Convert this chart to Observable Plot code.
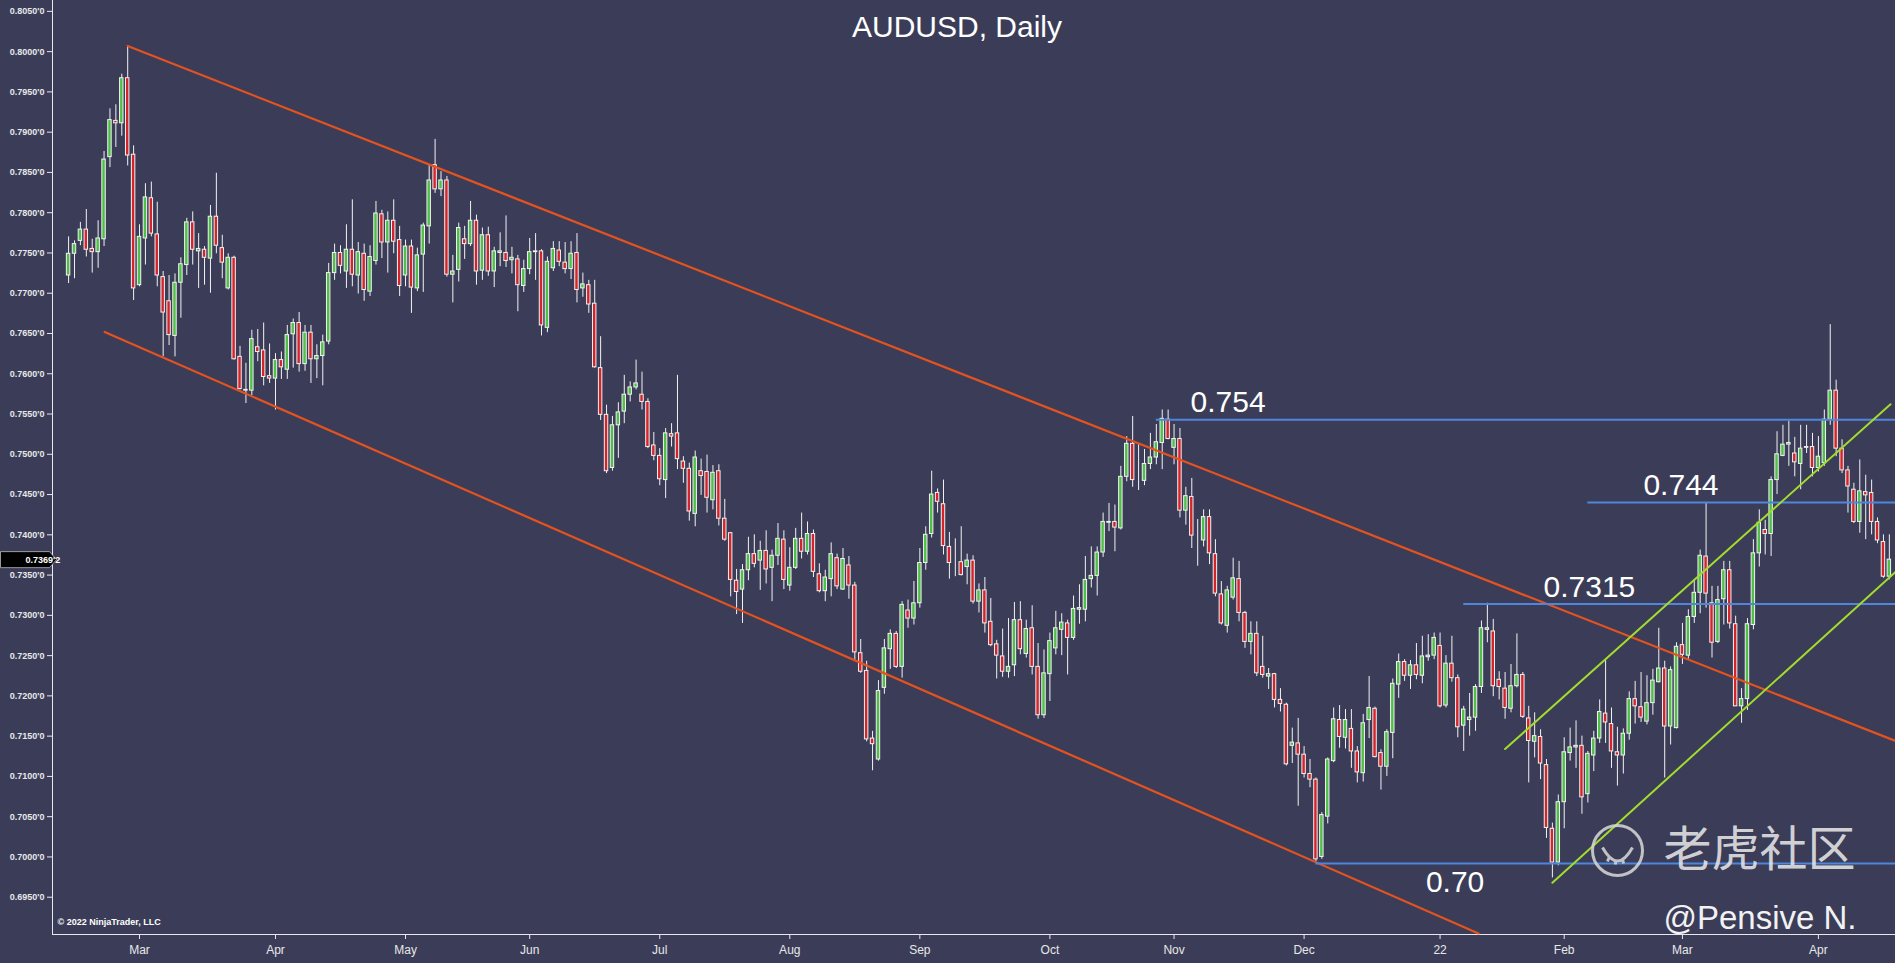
<!DOCTYPE html>
<html><head><meta charset="utf-8">
<script src="https://cdn.jsdelivr.net/npm/d3@7"></script>
<script src="https://cdn.jsdelivr.net/npm/@observablehq/plot@0.6"></script>
<style>
html,body{margin:0;padding:0;background:#3b3d58;overflow:hidden;width:1895px;height:963px;}
#chart svg{display:block;}
svg g[aria-label="y-axis tick label"], svg g[aria-label="y-axis"] text{font-size:9px;font-weight:bold;font-family:"Liberation Sans",Arial,sans-serif;}
svg g[aria-label="x-axis tick label"], svg g[aria-label="x-axis"] text{font-size:12px;font-family:"Liberation Sans Narrow","Arial Narrow","Liberation Sans",sans-serif;}
</style></head><body><div id="chart"></div>
<script>
// ---- Daily AUDUSD candles (trading-day index 0 = 11 Feb 2021 ... 308 = 19 Apr 2022) ----
const open = [
0.7722,0.7749,0.7765,0.7779,0.7755,0.7751,0.7767,0.7869,0.7914,0.7911,
0.7967,0.7872,0.7710,0.7768,0.7818,0.7773,0.7720,0.7690,0.7647,0.7713,
0.7735,0.7788,0.7752,0.7754,0.7743,0.7795,0.7756,0.7706,0.7744,0.7621,
0.7580,0.7579,0.7633,0.7629,0.7597,0.7594,0.7617,0.7605,0.7649,0.7663,
0.7612,0.7651,0.7618,0.7622,0.7640,0.7725,0.7750,0.7727,0.7754,0.7722,
0.7749,0.7702,0.7740,0.7798,0.7763,0.7790,0.7766,0.7722,0.7758,0.7706,
0.7748,0.7783,0.7859,0.7829,0.7840,0.7723,0.7729,0.7767,0.7761,0.7790,
0.7728,0.7772,0.7727,0.7750,0.7750,0.7741,0.7742,0.7709,0.7730,0.7751,
0.7752,0.7657,0.7731,0.7753,0.7738,0.7730,0.7750,0.7706,0.7710,0.7687,
0.7607,0.7549,0.7483,0.7536,0.7553,0.7574,0.7583,0.7574,0.7565,0.7511,
0.7498,0.7468,0.7525,0.7526,0.7491,0.7482,0.7426,0.7479,0.7478,0.7443,
0.7479,0.7420,0.7402,0.7343,0.7332,0.7356,0.7376,0.7368,0.7380,0.7359,
0.7374,0.7394,0.7337,0.7359,0.7395,0.7379,0.7401,0.7351,0.7330,0.7345,
0.7371,0.7332,0.7362,0.7337,0.7253,0.7231,0.7147,0.7121,0.7210,0.7258,
0.7277,0.7236,0.7306,0.7296,0.7315,0.7365,0.7401,0.7452,0.7438,0.7385,
0.7366,0.7366,0.7360,0.7368,0.7317,0.7331,0.7292,0.7264,0.7249,0.7230,
0.7238,0.7294,0.7252,0.7284,0.7236,0.7176,0.7227,0.7259,0.7282,0.7290,
0.7272,0.7307,0.7307,0.7345,0.7349,0.7378,0.7415,0.7416,0.7408,0.7472,
0.7513,0.7467,0.7467,0.7488,0.7496,0.7514,0.7543,0.7508,0.7519,0.7430,
0.7447,0.7399,0.7393,0.7422,0.7376,0.7326,0.7287,0.7322,0.7345,0.7303,
0.7267,0.7277,0.7236,0.7224,0.7227,0.7195,0.7189,0.7138,0.7141,0.7127,
0.7103,0.7096,0.7000,0.7050,0.7119,0.7170,0.7148,0.7159,0.7131,0.7104,
0.7170,0.7184,0.7129,0.7112,0.7154,0.7214,0.7242,0.7225,0.7238,0.7225,
0.7248,0.7250,0.7262,0.7188,0.7240,0.7222,0.7163,0.7170,0.7173,0.7211,
0.7282,0.7280,0.7220,0.7209,0.7184,0.7212,0.7226,0.7172,0.7143,0.7149,
0.7114,0.7035,0.6993,0.7068,0.7129,0.7136,0.7138,0.7078,0.7126,0.7147,
0.7178,0.7165,0.7130,0.7126,0.7153,0.7196,0.7186,0.7168,0.7191,0.7217,
0.7234,0.7162,0.7160,0.7263,0.7250,0.7298,0.7328,0.7373,0.7315,0.7267,
0.7320,0.7356,0.7289,0.7187,0.7196,0.7288,0.7377,0.7406,0.7401,0.7468,
0.7498,0.7512,0.7501,0.7488,0.7509,0.7509,0.7483,0.7489,0.7543,0.7579,
0.7507,0.7480,0.7456,0.7416,0.7453,0.7452,0.7416,0.7391,0.7348];
const high = [
0.7770,0.7765,0.7788,0.7804,0.7767,0.7790,0.7876,0.7929,0.7934,0.7972,
0.8007,0.7883,0.7785,0.7836,0.7838,0.7813,0.7727,0.7722,0.7724,0.7744,
0.7793,0.7801,0.7774,0.7758,0.7809,0.7849,0.7772,0.7749,0.7746,0.7634,
0.7613,0.7654,0.7655,0.7663,0.7637,0.7625,0.7627,0.7660,0.7668,0.7676,
0.7660,0.7660,0.7636,0.7648,0.7737,0.7761,0.7759,0.7785,0.7816,0.7763,
0.7761,0.7759,0.7814,0.7803,0.7801,0.7816,0.7783,0.7766,0.7766,0.7756,
0.7787,0.7859,0.7891,0.7851,0.7845,0.7747,0.7787,0.7783,0.7814,0.7797,
0.7781,0.7782,0.7757,0.7775,0.7796,0.7757,0.7747,0.7741,0.7768,0.7774,
0.7754,0.7745,0.7764,0.7764,0.7763,0.7764,0.7774,0.7725,0.7716,0.7716,
0.7646,0.7561,0.7547,0.7564,0.7598,0.7590,0.7617,0.7602,0.7569,0.7527,
0.7507,0.7532,0.7538,0.7598,0.7497,0.7489,0.7504,0.7494,0.7499,0.7486,
0.7487,0.7444,0.7403,0.7357,0.7363,0.7397,0.7400,0.7392,0.7405,0.7381,
0.7414,0.7405,0.7384,0.7408,0.7427,0.7416,0.7406,0.7364,0.7356,0.7390,
0.7376,0.7383,0.7373,0.7341,0.7270,0.7243,0.7156,0.7219,0.7270,0.7282,
0.7280,0.7317,0.7319,0.7342,0.7383,0.7410,0.7479,0.7457,0.7468,0.7403,
0.7395,0.7410,0.7376,0.7374,0.7339,0.7347,0.7321,0.7269,0.7283,0.7296,
0.7316,0.7317,0.7294,0.7312,0.7265,0.7257,0.7278,0.7305,0.7302,0.7294,
0.7324,0.7338,0.7373,0.7385,0.7385,0.7427,0.7439,0.7437,0.7485,0.7522,
0.7547,0.7512,0.7506,0.7526,0.7537,0.7555,0.7555,0.7537,0.7532,0.7459,
0.7470,0.7419,0.7431,0.7431,0.7394,0.7342,0.7336,0.7371,0.7367,0.7305,
0.7292,0.7292,0.7274,0.7234,0.7228,0.7209,0.7191,0.7160,0.7172,0.7137,
0.7121,0.7098,0.7055,0.7123,0.7185,0.7188,0.7183,0.7183,0.7137,0.7177,
0.7224,0.7186,0.7133,0.7158,0.7221,0.7252,0.7245,0.7244,0.7265,0.7274,
0.7276,0.7278,0.7278,0.7250,0.7274,0.7226,0.7187,0.7203,0.7214,0.7293,
0.7315,0.7295,0.7230,0.7229,0.7239,0.7277,0.7229,0.7187,0.7179,0.7158,
0.7121,0.7042,0.7077,0.7148,0.7160,0.7169,0.7150,0.7131,0.7156,0.7195,
0.7245,0.7185,0.7161,0.7159,0.7205,0.7218,0.7229,0.7225,0.7233,0.7284,
0.7243,0.7236,0.7266,0.7290,0.7307,0.7344,0.7381,0.7440,0.7336,0.7336,
0.7367,0.7367,0.7299,0.7209,0.7296,0.7394,0.7431,0.7418,0.7472,0.7528,
0.7536,0.7541,0.7521,0.7536,0.7536,0.7526,0.7522,0.7555,0.7661,0.7592,
0.7518,0.7485,0.7464,0.7493,0.7474,0.7468,0.7421,0.7400,0.7400];
const low = [
0.7712,0.7718,0.7759,0.7745,0.7725,0.7731,0.7758,0.7856,0.7881,0.7895,
0.7858,0.7691,0.7708,0.7735,0.7770,0.7708,0.7621,0.7635,0.7621,0.7669,
0.7722,0.7735,0.7706,0.7710,0.7700,0.7749,0.7718,0.7704,0.7617,0.7580,
0.7563,0.7573,0.7615,0.7585,0.7588,0.7555,0.7593,0.7593,0.7607,0.7602,
0.7603,0.7588,0.7594,0.7585,0.7636,0.7716,0.7724,0.7706,0.7708,0.7699,
0.7690,0.7696,0.7735,0.7743,0.7725,0.7749,0.7696,0.7708,0.7675,0.7702,
0.7701,0.7761,0.7824,0.7820,0.7720,0.7688,0.7714,0.7742,0.7758,0.7710,
0.7716,0.7721,0.7707,0.7733,0.7732,0.7724,0.7677,0.7701,0.7723,0.7716,
0.7647,0.7651,0.7727,0.7733,0.7724,0.7717,0.7688,0.7695,0.7675,0.7607,
0.7542,0.7476,0.7479,0.7495,0.7538,0.7565,0.7580,0.7555,0.7507,0.7492,
0.7461,0.7445,0.7509,0.7481,0.7464,0.7417,0.7410,0.7449,0.7427,0.7431,
0.7411,0.7392,0.7323,0.7301,0.7290,0.7343,0.7359,0.7331,0.7339,0.7317,
0.7362,0.7332,0.7330,0.7357,0.7370,0.7375,0.7347,0.7328,0.7317,0.7323,
0.7332,0.7331,0.7320,0.7243,0.7228,0.7143,0.7107,0.7119,0.7202,0.7233,
0.7234,0.7222,0.7284,0.7288,0.7309,0.7356,0.7396,0.7427,0.7375,0.7345,
0.7348,0.7349,0.7338,0.7314,0.7303,0.7278,0.7261,0.7221,0.7223,0.7222,
0.7224,0.7251,0.7247,0.7226,0.7171,0.7172,0.7193,0.7251,0.7250,0.7226,
0.7269,0.7289,0.7292,0.7334,0.7324,0.7372,0.7404,0.7379,0.7406,0.7466,
0.7459,0.7455,0.7461,0.7481,0.7487,0.7481,0.7518,0.7487,0.7421,0.7412,
0.7383,0.7361,0.7385,0.7363,0.7323,0.7288,0.7278,0.7319,0.7292,0.7259,
0.7251,0.7224,0.7222,0.7208,0.7185,0.7180,0.7113,0.7116,0.7063,0.7098,
0.7086,0.6994,0.6997,0.7041,0.7117,0.7135,0.7134,0.7110,0.7092,0.7093,
0.7147,0.7123,0.7083,0.7100,0.7122,0.7197,0.7218,0.7208,0.7220,0.7215,
0.7243,0.7245,0.7185,0.7185,0.7217,0.7148,0.7131,0.7150,0.7156,0.7203,
0.7266,0.7199,0.7195,0.7171,0.7179,0.7210,0.7172,0.7092,0.7123,0.7096,
0.7023,0.6974,0.6989,0.7035,0.7119,0.7110,0.7053,0.7067,0.7106,0.7141,
0.7141,0.7110,0.7088,0.7103,0.7145,0.7165,0.7167,0.7164,0.7176,0.7216,
0.7098,0.7139,0.7159,0.7239,0.7245,0.7290,0.7302,0.7309,0.7247,0.7265,
0.7288,0.7283,0.7187,0.7166,0.7182,0.7282,0.7360,0.7375,0.7373,0.7450,
0.7497,0.7485,0.7472,0.7456,0.7501,0.7472,0.7478,0.7485,0.7536,0.7497,
0.7476,0.7427,0.7414,0.7402,0.7394,0.7400,0.7389,0.7346,0.7344];
const close = [
0.7749,0.7761,0.7779,0.7754,0.7751,0.7768,0.7866,0.7915,0.7911,0.7967,
0.7871,0.7706,0.7770,0.7819,0.7774,0.7722,0.7676,0.7648,0.7713,0.7736,
0.7788,0.7754,0.7755,0.7744,0.7795,0.7759,0.7738,0.7744,0.7618,0.7581,
0.7579,0.7643,0.7627,0.7596,0.7594,0.7617,0.7608,0.7648,0.7663,0.7612,
0.7651,0.7618,0.7622,0.7639,0.7725,0.7750,0.7734,0.7754,0.7723,0.7751,
0.7704,0.7745,0.7799,0.7763,0.7790,0.7764,0.7709,0.7758,0.7707,0.7747,
0.7784,0.7840,0.7829,0.7840,0.7723,0.7727,0.7781,0.7761,0.7790,0.7727,
0.7772,0.7727,0.7752,0.7752,0.7740,0.7744,0.7710,0.7730,0.7751,0.7752,
0.7660,0.7739,0.7755,0.7739,0.7730,0.7749,0.7704,0.7711,0.7686,0.7608,
0.7549,0.7479,0.7536,0.7552,0.7574,0.7583,0.7588,0.7565,0.7509,0.7498,
0.7469,0.7526,0.7522,0.7494,0.7482,0.7429,0.7496,0.7473,0.7446,0.7477,
0.7420,0.7394,0.7344,0.7329,0.7356,0.7376,0.7364,0.7380,0.7357,0.7374,
0.7395,0.7344,0.7359,0.7395,0.7379,0.7401,0.7354,0.7330,0.7347,0.7376,
0.7336,0.7370,0.7337,0.7254,0.7230,0.7146,0.7140,0.7206,0.7259,0.7277,
0.7236,0.7313,0.7296,0.7315,0.7365,0.7400,0.7450,0.7441,0.7386,0.7365,
0.7366,0.7350,0.7368,0.7317,0.7331,0.7290,0.7263,0.7250,0.7230,0.7236,
0.7294,0.7258,0.7283,0.7236,0.7176,0.7228,0.7268,0.7284,0.7291,0.7272,
0.7308,0.7309,0.7344,0.7349,0.7378,0.7416,0.7416,0.7409,0.7472,0.7513,
0.7468,0.7467,0.7488,0.7496,0.7515,0.7544,0.7519,0.7519,0.7430,0.7448,
0.7399,0.7399,0.7422,0.7377,0.7327,0.7290,0.7331,0.7346,0.7303,0.7267,
0.7277,0.7228,0.7226,0.7227,0.7195,0.7190,0.7115,0.7142,0.7127,0.7103,
0.7096,0.6997,0.7052,0.7121,0.7171,0.7149,0.7170,0.7131,0.7105,0.7166,
0.7185,0.7124,0.7112,0.7155,0.7215,0.7242,0.7225,0.7238,0.7226,0.7249,
0.7250,0.7272,0.7187,0.7240,0.7222,0.7161,0.7183,0.7173,0.7211,0.7284,
0.7284,0.7212,0.7211,0.7185,0.7212,0.7226,0.7174,0.7144,0.7150,0.7116,
0.7036,0.6993,0.7068,0.7130,0.7136,0.7138,0.7074,0.7128,0.7147,0.7180,
0.7167,0.7131,0.7126,0.7153,0.7196,0.7187,0.7173,0.7191,0.7219,0.7234,
0.7162,0.7232,0.7261,0.7251,0.7298,0.7328,0.7374,0.7327,0.7266,0.7319,
0.7356,0.7290,0.7187,0.7196,0.7289,0.7377,0.7415,0.7401,0.7468,0.7500,
0.7512,0.7514,0.7490,0.7507,0.7508,0.7483,0.7497,0.7543,0.7579,0.7507,
0.7480,0.7460,0.7416,0.7454,0.7449,0.7416,0.7393,0.7348,0.73692];

// ---- axis ticks ----
const monthTickIndex  = [12, 35, 57, 78, 100, 122, 144, 166, 187, 209, 232, 253, 273, 296];
const monthTickLabels = ["Mar","Apr","May","Jun","Jul","Aug","Sep","Oct","Nov","Dec","22","Feb","Mar","Apr"];
const priceTicks = [0.6950,0.7000,0.7050,0.7100,0.7150,0.7200,0.7250,0.7300,0.7350,0.7400,0.7450,0.7500,
                    0.7550,0.7600,0.7650,0.7700,0.7750,0.7800,0.7850,0.7900,0.7950,0.8000,0.8050];

// ---- drawn levels / trend lines (index, price) ----
const levelValues = [0.7543, 0.7440, 0.7314, 0.6992];
const levelStart  = [184, 257, 236, 211];
const levelLabels = ["0.754", "0.744", "0.7315", "0.70"];
const levelLabelIndex = [189.8, 266.4, 249.5, 229.6];
const levelLabelBelow = [false, false, false, true];
const channelUpper = [[10, 0.8007], [309.04, 0.7144]];
const channelLower = [[6.1, 0.7652], [238.5, 0.6905]];
const risingUpper  = [[243.0, 0.7134], [308.2, 0.7562]];
const risingLower  = [[251.0, 0.6968], [309.04, 0.7354]];

// ---- build ----
const candles = open.map((o, i) => ({i, open: o, high: high[i], low: low[i], close: close[i]}));
const last = candles[candles.length - 1].close;
const xDomain = [-2.72, 309.04];
const yDomain = [0.69037, 0.80635];
const levels = levelValues.map((v, k) => ({v, start: levelStart[k], label: levelLabels[k], li: levelLabelIndex[k], below: levelLabelBelow[k]}));
const toPts = (arr, id) => arr.map(([i, p]) => ({i, p, id}));
const orangeLines = [...toPts(channelUpper, "u"), ...toPts(channelLower, "l")];
const greenLines  = [...toPts(risingUpper, "u"), ...toPts(risingLower, "l")];

const GREEN = "#4fbf47", RED = "#d5232a", WICK = "#f2f2f2";
const ORANGE = "#e4531f", BLUE = "#4f86dc", LIME = "#a2dc2c";

const markerSymbol = {draw(ctx) {
  ctx.moveTo(-56, -8); ctx.lineTo(-7, -8); ctx.lineTo(0, 0); ctx.lineTo(-7, 8); ctx.lineTo(-56, 8); ctx.closePath();
}};
const bowlSymbol = {draw(ctx) {
  ctx.moveTo(-15, -3); ctx.quadraticCurveTo(0, 24, 15, -3);
  ctx.moveTo(-8, 6); ctx.lineTo(-10, 11);
  ctx.moveTo(-2, 9); ctx.lineTo(-2, 14);
  ctx.moveTo(5, 8); ctx.lineTo(6, 13);
}};
const fmtPrice = d => d.toFixed(4) + "'0";
const fmtLast = d => { const s = d.toFixed(5); return s.slice(0, 6) + "'" + s.slice(6); };

const chart = Plot.plot({
  width: 1895, height: 963,
  marginLeft: 52, marginRight: 0, marginTop: 0, marginBottom: 29,
  style: {background: "#3b3d58", color: "#e8e8e8", fontFamily: "'Liberation Sans', Arial, sans-serif", overflow: "visible"},
  x: {domain: xDomain, ticks: monthTickIndex, tickFormat: d => monthTickLabels[monthTickIndex.indexOf(d)], tickSize: 5, tickPadding: 6, label: null},
  y: {domain: yDomain, ticks: priceTicks, tickFormat: fmtPrice, tickSize: 5, tickPadding: 3, label: null},
  marks: [
    Plot.ruleX([xDomain[0]], {stroke: "#e8e8e8", strokeWidth: 1}),
    Plot.ruleY([yDomain[0]], {stroke: "#e8e8e8", strokeWidth: 1}),
    // candles
    Plot.ruleX(candles, {x: "i", y1: "low", y2: "high", stroke: WICK, strokeWidth: 1}),
    Plot.rect(candles, {
      x1: d => d.i - 0.29, x2: d => d.i + 0.29, y1: "open", y2: "close",
      fill: d => d.close > d.open ? GREEN : d.close < d.open ? RED : WICK,
      stroke: WICK, strokeWidth: 1
    }),
    // trend lines
    Plot.line(orangeLines, {x: "i", y: "p", z: "id", stroke: ORANGE, strokeWidth: 2.2}),
    Plot.ruleY(levels, {y: "v", x1: "start", x2: xDomain[1], stroke: BLUE, strokeWidth: 2}),
    Plot.line(greenLines, {x: "i", y: "p", z: "id", stroke: LIME, strokeWidth: 2}),
    // level labels
    Plot.text(levels.filter(d => !d.below), {x: "li", y: "v", text: "label", textAnchor: "start", lineAnchor: "middle", dy: -17,
      fill: "#ffffff", fontSize: 30}),
    Plot.text(levels.filter(d => d.below), {x: "li", y: "v", text: "label", textAnchor: "start", lineAnchor: "middle", dy: 19,
      fill: "#ffffff", fontSize: 30}),
    // title
    Plot.text(["AUDUSD, Daily"], {text: d => d, frameAnchor: "top", lineAnchor: "middle", dx: -17, dy: 27, fill: "#ffffff", fontSize: 30}),
    // copyright
    Plot.text(["© 2022 NinjaTrader, LLC"], {text: d => d, frameAnchor: "bottom-left", lineAnchor: "middle", dx: 5, dy: -12,
      textAnchor: "start", fill: "#ffffff", fontSize: 9, fontWeight: "bold"}),
    // watermark
    Plot.dot([0], {frameAnchor: "bottom-right", dx: -278, dy: -84, r: 25, stroke: "#d9d9d9", strokeWidth: 3, fill: "none", strokeOpacity: 0.85}),
    Plot.dot([0], {frameAnchor: "bottom-right", dx: -278, dy: -84, symbol: bowlSymbol, stroke: "#d9d9d9", strokeWidth: 3, fill: "none", strokeOpacity: 0.85}),
    Plot.text(["老虎社区"], {text: d => d, frameAnchor: "bottom-right", lineAnchor: "middle", dx: -40, dy: -84, textAnchor: "end",
      fill: "#e6e6e6", fillOpacity: 0.9, fontSize: 48, fontFamily: "'Noto Sans CJK SC', sans-serif"}),
    Plot.text(["@Pensive N."], {text: d => d, frameAnchor: "bottom-right", lineAnchor: "middle", dx: -39, dy: -16, textAnchor: "end",
      fill: "#f2f2f2", fontSize: 33, fontFamily: "'Liberation Sans', Arial, sans-serif"}),
    // last price marker
    Plot.dot([last], {y: d => d, frameAnchor: "left", dx: 4, symbol: markerSymbol, fill: "#000000", stroke: "#cfcfcf", strokeWidth: 0.7}),
    Plot.text([last], {y: d => d, frameAnchor: "left", lineAnchor: "middle", dx: -27, text: fmtLast, fill: "#ffffff", fontSize: 9, fontWeight: "bold"})
  ]
});
document.getElementById("chart").appendChild(chart);
</script>
</body></html>
